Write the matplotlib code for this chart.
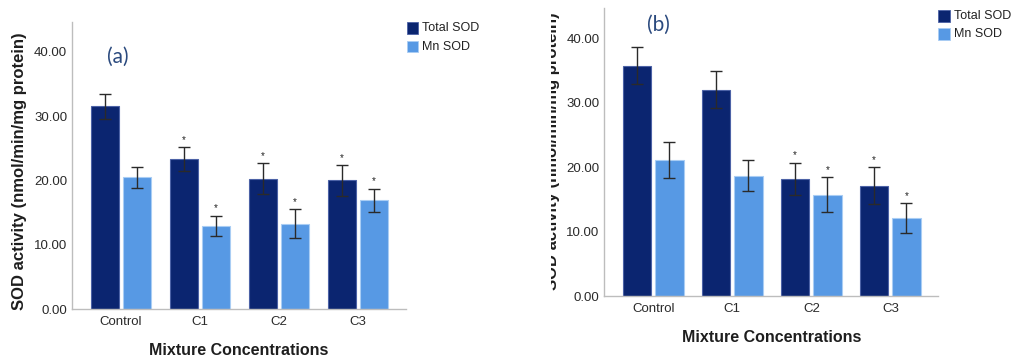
import matplotlib
matplotlib.use("Agg")
import matplotlib.pyplot as plt
from matplotlib.patches import Rectangle
from matplotlib.transforms import Bbox, TransformedBbox
import numpy as np

plt.rcParams['font.family'] = ['Liberation Sans', 'DejaVu Sans']

categories = ['Control', 'C1', 'C2', 'C3']
series_names = ['Total SOD', 'Mn SOD']

a_total = [31.5, 23.3, 20.3, 20.0]
a_total_err = [2.0, 1.9, 2.35, 2.35]
a_mn = [20.5, 13.0, 13.3, 16.9]
a_mn_err = [1.65, 1.55, 2.25, 1.85]
a_total_sig = [False, True, True, True]
a_mn_sig = [False, True, True, True]

b_total = [35.7, 32.0, 18.2, 17.15]
b_total_err = [2.9, 2.9, 2.5, 2.8]
b_mn = [21.1, 18.7, 15.7, 12.15]
b_mn_err = [2.8, 2.35, 2.7, 2.3]
b_total_sig = [False, False, True, True]
b_mn_sig = [False, False, True, True]

yticks = [0, 10, 20, 30, 40]

W, H = 1013, 356
fig = plt.figure(figsize=(W / 100, H / 100), dpi=100)

C_TOTAL = '#0b2570'
C_MN = '#5799e4'
E_TOTAL = '#4c62a6'
E_MN = '#a9cdf4'


def px_ax(left, right, top, bottom):
    return fig.add_axes([left / W, 1 - bottom / H, (right - left) / W, (bottom - top) / H])


def draw_panel(ax, total, total_err, mn, mn_err, tsig, msig):
    x = np.arange(len(categories))
    bw = 0.358
    off = bw / 2 + 0.025
    for vals, errs, sig, dx, fc, ec in [(total, total_err, tsig, -off, C_TOTAL, E_TOTAL),
                                        (mn, mn_err, msig, off, C_MN, E_MN)]:
        ax.bar(x + dx, vals, width=bw, color=fc, edgecolor=ec, linewidth=0.8, zorder=2)
        ax.errorbar(x + dx, vals, yerr=errs, fmt='none', ecolor='#2a2a2a',
                    elinewidth=1.0, capsize=4.2, capthick=1.0, zorder=3)
        for xi, v, e, s in zip(x + dx, vals, errs, sig):
            if s:
                ax.annotate('*', (xi, v + e), xytext=(0, 3), textcoords='offset points',
                            ha='center', va='baseline', fontsize=7, color='#222222')
    ax.set_xlim(-0.62, 3.607)
    ax.set_ylim(0, 44.6)
    ax.set_xticks(x)
    ax.set_xticklabels(categories)
    ax.set_yticks(yticks)
    ax.set_yticklabels(['%.2f' % t for t in yticks])
    for s in ['top', 'right']:
        ax.spines[s].set_visible(False)
    for s in ['left', 'bottom']:
        ax.spines[s].set_color('#bdbdbd')
        ax.spines[s].set_linewidth(1.0)
    ax.tick_params(axis='both', length=0, labelsize=9.5, labelcolor='#2a2a2a')
    ax.tick_params(axis='x', pad=4.5)
    ax.tick_params(axis='y', pad=3.5)
    ax.set_xlabel('Mixture Concentrations', fontsize=11.5, fontweight='bold',
                  color='#1e1e1e', labelpad=11)


def legend(x0, y0, pitch, size=11.7):
    for i, (name, col, ec) in enumerate(zip(series_names, [C_TOTAL, C_MN], [E_TOTAL, E_MN])):
        yt = y0 + i * pitch
        fig.patches.append(Rectangle((x0 / W, 1 - (yt + size) / H), size / W, size / H,
                                     transform=fig.transFigure, facecolor=col,
                                     edgecolor=ec, linewidth=0.6))
        fig.text((x0 + size + 3.5) / W, 1 - (yt + size / 2) / H, name, fontsize=9,
                 color='#222222', ha='left', va='center')


axa = px_ax(72, 406, 22, 309.3)
draw_panel(axa, a_total, a_total_err, a_mn, a_mn_err, a_total_sig, a_mn_sig)
axb = px_ax(604.3, 938.3, 8.3, 296.3)
draw_panel(axb, b_total, b_total_err, b_mn, b_mn_err, b_total_sig, b_mn_sig)

ylab = 'SOD activity (nmol/min/mg protein)'
fig.text(19.5 / W, 1 - 171.5 / H, ylab, rotation=90, ha='center', va='center',
         fontsize=12, fontweight='bold', color='#1e1e1e')
tb = fig.text(552 / W, 1 - 151.5 / H, ylab, rotation=90, ha='center', va='center',
              fontsize=12, fontweight='bold', color='#1e1e1e')
tb.set_clip_box(TransformedBbox(Bbox([[550.5 / W, 0], [0.59, 1]]), fig.transFigure))
tb.set_clip_on(True)

fig.text(117.7 / W, 1 - 57.3 / H, '(a)', fontsize=15, color='#2b4a7e',
         ha='center', va='center', family=['Lato', 'DejaVu Sans'])
fig.text(658.3 / W, 1 - 25 / H, '(b)', fontsize=15, color='#2b4a7e',
         ha='center', va='center', family=['Lato', 'DejaVu Sans'])

legend(406.7, 22.3, 18.4)
legend(938.3, 10.3, 17.8)

fig.savefig('out.png', dpi=100)
